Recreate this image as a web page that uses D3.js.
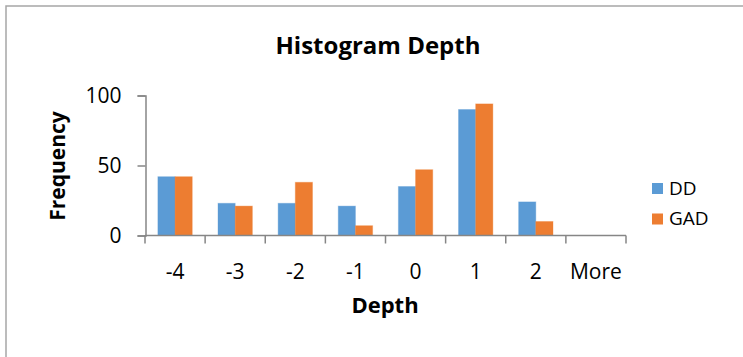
<!DOCTYPE html>
<html>
<head>
<meta charset="utf-8">
<script src="https://cdn.jsdelivr.net/npm/d3@7"></script>
<style>
  body { margin: 0; background: #fff; }
  text { font-family: "Open Sans", sans-serif; fill: #000; }
</style>
</head>
<body>
<div id="chart"></div>
<script>
var categories = ["-4", "-3", "-2", "-1", "0", "1", "2", "More"];
var seriesNames = ["DD", "GAD"];
var ddValues = [42, 23, 23, 21, 35, 90, 24, 0];
var gadValues = [42, 21, 38, 7, 47, 94, 10, 0];
var yTicks = [0, 50, 100];
var colors = ["#5B9BD5", "#ED7D31"];

var width = 743, height = 357;

var rows = categories.map(function(c, i) {
    return {cat: c, values: [ddValues[i], gadValues[i]]};
});

var svg = d3.select("#chart")
    .append("svg")
    .attr("width", width)
    .attr("height", height)

// chart area border (only left and top edges visible)
svg.append("rect")
    .attr("x", 6)
    .attr("y", 6)
    .attr("width", width + 10)
    .attr("height", height + 10)
    .attr("fill", "none")
    .attr("stroke", "#a6a6a6")
    .attr("stroke-width", 1.5)

var x0 = d3.scaleBand()
    .domain(categories)
    .range([145, 626])
    .padding(0)

var x1 = d3.scaleBand()
    .domain(seriesNames)
    .range([0, x0.bandwidth()])
    .paddingInner(0)
    .paddingOuter(0.75)

var y = d3.scaleLinear()
    .domain([0, 100])
    .range([235.5, 95.5])

// y axis
var yAxis = svg.append("g")
    .attr("transform", "translate(145.5,0)")
    .call(d3.axisLeft(y).tickValues(yTicks).tickSize(8).tickPadding(16))
yAxis.select(".domain").attr("stroke", "#868686").attr("stroke-width", 1.5)
yAxis.selectAll(".tick line").attr("stroke", "#868686").attr("stroke-width", 1.5)
yAxis.selectAll(".tick text")
    .attr("font-size", 21)
    .attr("font-family", "Open Sans")
    .attr("fill", "#000")

// bars
var groups = svg.append("g")
    .selectAll("g")
    .data(rows)
    .join("g")
    .attr("transform", function(d) { return "translate(" + x0(d.cat) + ",0)"; })

groups.selectAll("rect")
    .data(function(d) { return d.values.map(function(v, i) { return {key: seriesNames[i], value: v, i: i}; }); })
    .join("rect")
    .attr("x", function(d) { return x1(d.key); })
    .attr("y", function(d) { return y(d.value); })
    .attr("width", x1.bandwidth())
    .attr("height", function(d) { return y(0) - y(d.value); })
    .attr("fill", function(d) { return colors[d.i]; })
    .attr("stroke", function(d) { return colors[d.i]; })
    .attr("stroke-opacity", 0.35)
    .attr("stroke-width", 1)

// x axis with ticks between categories
var xAxis = svg.append("g")
    .attr("transform", "translate(0," + y(0) + ")")
xAxis.append("line")
    .attr("x1", x0.range()[0])
    .attr("x2", x0.range()[1])
    .attr("stroke", "#868686")
    .attr("stroke-width", 1.5)
xAxis.selectAll(".sep")
    .data(categories.concat(["end"]))
    .join("line")
    .attr("class", "sep")
    .attr("x1", function(d, i) { return x0.range()[0] + i * x0.step(); })
    .attr("x2", function(d, i) { return x0.range()[0] + i * x0.step(); })
    .attr("y1", 0)
    .attr("y2", 8)
    .attr("stroke", "#868686")
    .attr("stroke-width", 1.5)
xAxis.selectAll(".lbl")
    .data(categories)
    .join("text")
    .attr("class", "lbl")
    .attr("x", function(d) { return x0(d) + x0.bandwidth() / 2; })
    .attr("y", 43)
    .attr("text-anchor", "middle")
    .attr("font-size", 21)
    .text(function(d) { return d; })

// titles
svg.append("text")
    .attr("x", 378)
    .attr("y", 54)
    .attr("text-anchor", "middle")
    .attr("font-size", 24)
    .attr("font-weight", "bold")
    .text("Histogram Depth")

svg.append("text")
    .attr("x", 385)
    .attr("y", 313)
    .attr("text-anchor", "middle")
    .attr("font-size", 22)
    .attr("font-weight", "bold")
    .text("Depth")

svg.append("text")
    .attr("transform", "translate(65,166) rotate(-90)")
    .attr("text-anchor", "middle")
    .attr("font-size", 21)
    .attr("font-weight", "bold")
    .text("Frequency")

// legend
var legend = svg.append("g")
    .selectAll("g")
    .data(seriesNames)
    .join("g")
    .attr("transform", function(d, i) { return "translate(652," + (183 + i * 30.5) + ")"; })
legend.append("rect")
    .attr("width", 11)
    .attr("height", 11)
    .attr("fill", function(d, i) { return colors[i]; })
legend.append("text")
    .attr("x", 17)
    .attr("y", 11.5)
    .attr("font-size", 19)
    .text(function(d) { return d; })
</script>
</body>
</html>
